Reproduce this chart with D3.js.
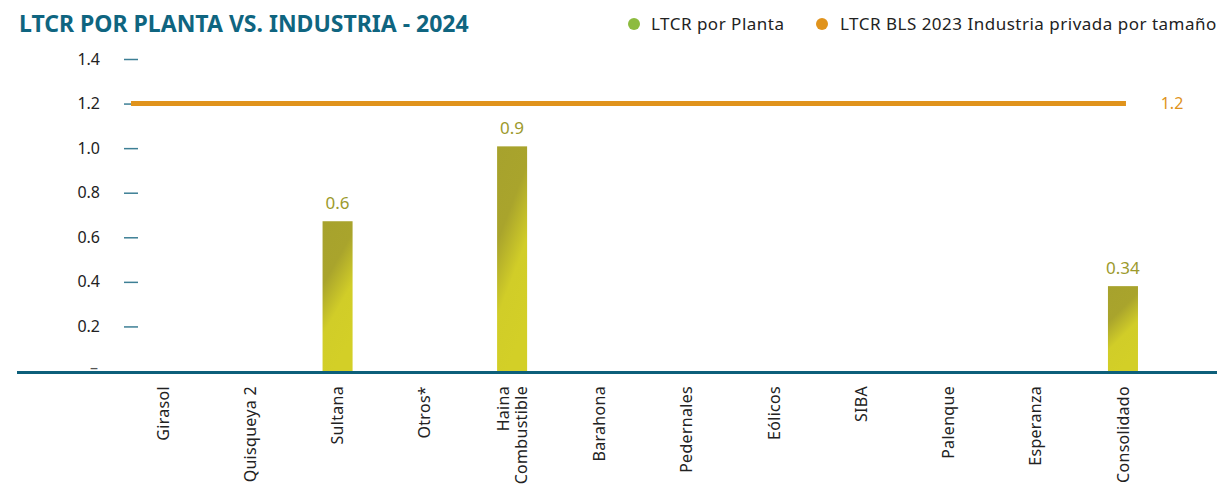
<!DOCTYPE html>
<html lang="es">
<head>
<meta charset="utf-8">
<title>LTCR por planta vs. industria - 2024</title>
<script src="https://cdn.jsdelivr.net/npm/d3@7/dist/d3.min.js"></script>
<style>
  html, body { margin: 0; padding: 0; background: #ffffff; }
  svg { display: block; font-family: "Noto Sans", "Open Sans", sans-serif; }
</style>
</head>
<body>
<svg id="chart" width="1222" height="493"></svg>
<script>
// Plants shown on the category axis
const categories = ["Girasol", "Quisqueya 2", "Sultana", "Otros*", "Haina Combustible",
  "Barahona", "Pedernales", "Eólicos", "SIBA", "Palenque", "Esperanza", "Consolidado"];
// LTCR per plant (null = no recorded value)
const ltcrPlanta = [null, null, 0.6, null, 0.9, null, null, null, null, null, null, 0.34];
// BLS 2023 private-industry benchmark
const ltcrIndustria = [1.2, 1.2, 1.2, 1.2, 1.2, 1.2, 1.2, 1.2, 1.2, 1.2, 1.2, 1.2];
// Y axis ticks
const yTicks = [0, 0.2, 0.4, 0.6, 0.8, 1.0, 1.2, 1.4];

const colors = {
  title: "#0f6580",
  axis: "#0d5f7a",
  tick: "#3d7f95",
  planta: "#8dbb3f",
  industria: "#e0931c",
  barLabel: "#9c9a2c",
  text: "#222222"
};

const svg = d3.select("#chart");

// Scales
const x = d3.scaleBand()
  .domain(categories)
  .range([119.4, 1166.6])
  .paddingInner(0.656)
  .paddingOuter(0.328);

const y = d3.scaleLinear().domain([0, 1.4]).range([371, 59]);
// Secondary (hidden) scale used by the plant columns
const yBar = d3.scaleLinear().domain([0, 1.25]).range([371, 59]);

// Bar gradient
const defs = svg.append("defs");
const grad = defs.append("linearGradient")
  .attr("id", "barGrad")
  .attr("x1", "0").attr("y1", "0")
  .attr("x2", "0.35").attr("y2", "1");
grad.append("stop").attr("offset", "0").attr("stop-color", "#a7a22d");
grad.append("stop").attr("offset", "0.38").attr("stop-color", "#a9a42c");
grad.append("stop").attr("offset", "0.68").attr("stop-color", "#d1cd28");
grad.append("stop").attr("offset", "1").attr("stop-color", "#d3cf27");

// Title
svg.append("text")
  .attr("x", 19).attr("y", 32)
  .attr("fill", colors.title)
  .attr("font-size", 23)
  .attr("font-weight", 700)
  .text("LTCR POR PLANTA VS. INDUSTRIA - 2024");

// Legend
const legend = [
  { label: "LTCR por Planta", color: colors.planta, cx: 634, tx: 651 },
  { label: "LTCR BLS 2023 Industria privada por tamaño", color: colors.industria, cx: 822, tx: 840 }
];
const lg = svg.append("g").attr("class", "legend");
lg.selectAll("circle").data(legend).join("circle")
  .attr("cx", d => d.cx).attr("cy", 24).attr("r", 6)
  .attr("fill", d => d.color);
lg.selectAll("text").data(legend).join("text")
  .attr("x", d => d.tx).attr("y", 30)
  .attr("font-size", 17)
  .attr("letter-spacing", 0.5)
  .attr("fill", colors.text)
  .text(d => d.label);

// Y axis
const yAxis = d3.axisLeft(y)
  .tickValues(yTicks)
  .tickSize(14)
  .tickPadding(24)
  .tickFormat(d => d === 0 ? "–" : d3.format(".1f")(d));
const gy = svg.append("g")
  .attr("transform", "translate(138,0)")
  .call(yAxis);
gy.select(".domain").remove();
gy.selectAll(".tick line").attr("stroke", colors.tick).attr("stroke-width", 1.5);
gy.selectAll(".tick text")
  .attr("fill", colors.text)
  .attr("font-size", 16)
  .attr("font-family", "\"Noto Sans\", sans-serif");
const zeroTick = gy.selectAll(".tick").filter(d => d === 0);
zeroTick.select("line").remove();
zeroTick.select("text").attr("fill", "#555").attr("x", -40).attr("dy", "0.1em");

// Plant columns
const barData = categories.map((c, i) => ({ cat: c, v: ltcrPlanta[i] })).filter(d => d.v != null);
svg.append("g").selectAll("rect").data(barData).join("rect")
  .attr("x", d => x(d.cat))
  .attr("width", x.bandwidth())
  .attr("y", d => yBar(d.v))
  .attr("height", d => yBar(0) - yBar(d.v))
  .attr("fill", "url(#barGrad)");

svg.append("g").selectAll("text").data(barData).join("text")
  .attr("x", d => x(d.cat) + x.bandwidth() / 2)
  .attr("y", d => yBar(d.v) - 12)
  .attr("text-anchor", "middle")
  .attr("font-size", 17)
  .attr("fill", colors.barLabel)
  .text(d => d3.format("~g")(d.v));

// Industry benchmark line
const firstC = x(categories[0]) + x.bandwidth() / 2;
const lastC = x(categories[categories.length - 1]) + x.bandwidth() / 2;
const linePts = ltcrIndustria.map((v, i) => ({
  px: i === 0 ? firstC - 32 : (i === categories.length - 1 ? lastC + 3 : x(categories[i]) + x.bandwidth() / 2),
  v
}));
svg.append("path")
  .datum(linePts)
  .attr("fill", "none")
  .attr("stroke", colors.industria)
  .attr("stroke-width", 5)
  .attr("d", d3.line().x(d => d.px).y(d => y(d.v)));

svg.append("text")
  .attr("x", 1172).attr("y", y(ltcrIndustria[ltcrIndustria.length - 1]) + 5.5)
  .attr("text-anchor", "middle")
  .attr("font-size", 16)
  .attr("fill", colors.industria)
  .text(d3.format(".1f")(ltcrIndustria[ltcrIndustria.length - 1]));

// Category axis line
svg.append("line")
  .attr("x1", 17).attr("x2", 1217)
  .attr("y1", 372.5).attr("y2", 372.5)
  .attr("stroke", colors.axis)
  .attr("stroke-width", 3);

// Category labels (rotated)
const xl = svg.append("g").selectAll("text").data(categories).join("text")
  .attr("transform", d => `translate(${x(d) + x.bandwidth() / 2},386) rotate(-90)`)
  .attr("text-anchor", "end")
  .attr("font-size", 16)
  .attr("letter-spacing", 0.3)
  .attr("fill", colors.text);
xl.each(function(d) {
  const words = d === "Haina Combustible" ? ["Haina", "Combustible"] : [d];
  const t = d3.select(this);
  if (words.length === 1) {
    t.append("tspan").attr("x", 0).attr("dy", "0.35em").text(words[0]);
  } else {
    t.append("tspan").attr("x", 0).attr("dy", "-0.22em").text(words[0]);
    t.append("tspan").attr("x", 0).attr("dy", "1.18em").text(words[1]);
  }
});
</script>
</body>
</html>
